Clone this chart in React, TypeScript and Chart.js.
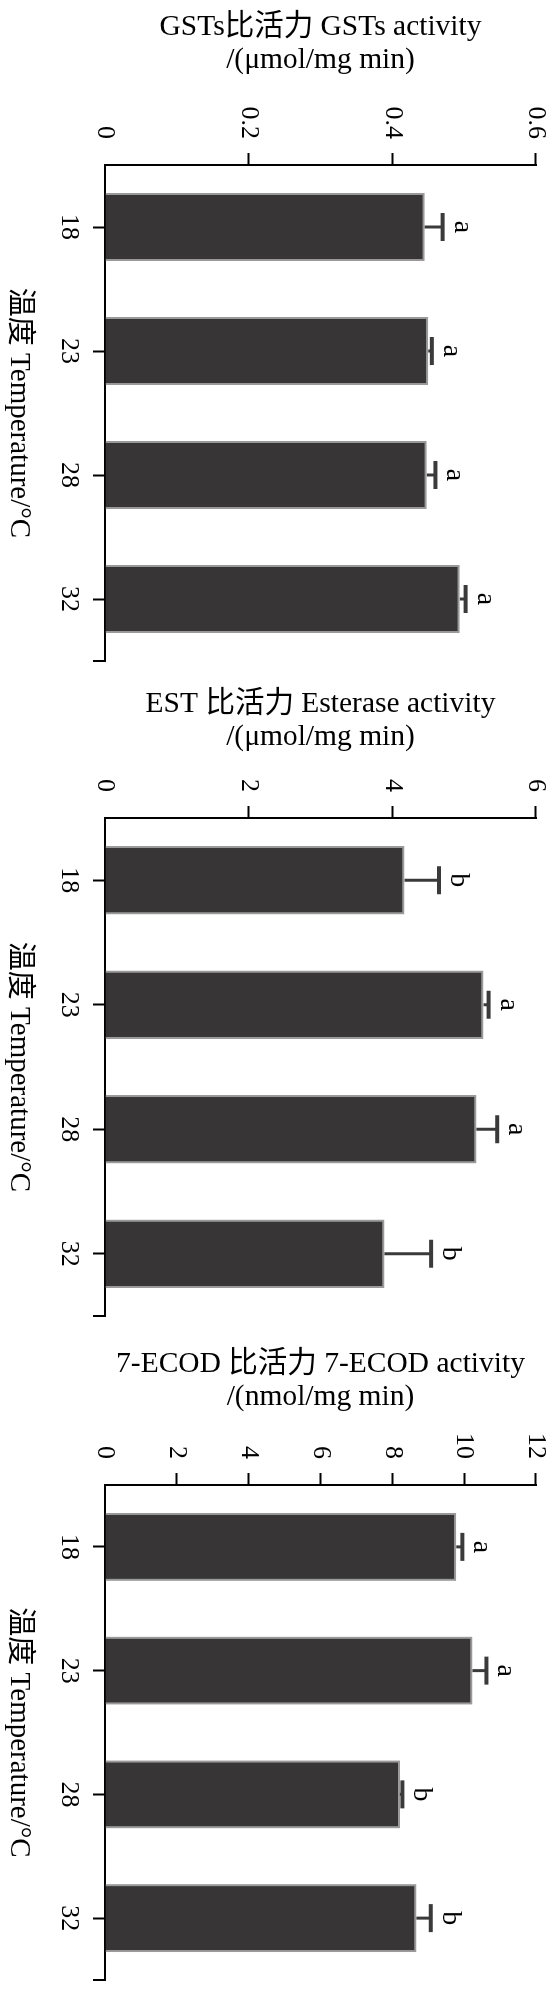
import React, { useEffect, useRef } from 'react';
import { Chart, registerables } from 'chart.js';

Chart.register(...registerables);

// ---------- data ----------
const categories = ['18', '23', '28', '32'];

const gstValues = [0.445, 0.45, 0.448, 0.494];
const gstErrors = [0.025, 0.005, 0.012, 0.008];
const gstLetters = ['a', 'a', 'a', 'a'];
const gstTitle = ['GSTs比活力 GSTs activity', '/(μmol/mg min)'];
const gstMax = 0.6;
const gstStep = 0.2;

const estValues = [4.17, 5.27, 5.17, 3.89];
const estErrors = [0.48, 0.07, 0.29, 0.65];
const estLetters = ['b', 'a', 'a', 'b'];
const estTitle = ['EST 比活力 Esterase activity', '/(μmol/mg min)'];
const estMax = 6;
const estStep = 2;

const ecodValues = [9.78, 10.23, 8.21, 8.67];
const ecodErrors = [0.17, 0.39, 0.07, 0.4];
const ecodLetters = ['a', 'a', 'b', 'b'];
const ecodTitle = ['7-ECOD 比活力 7-ECOD activity', '/(nmol/mg min)'];
const ecodMax = 12;
const ecodStep = 2;

const xTitle = '温度 Temperature/°C';

// ---------- layout (each panel is a vertical bar chart rotated 90° clockwise) ----------
const PAGE_W = 553;
const AREA_TOP = 17;
const AREA_BOTTOM = 448;
const FAMILY = "'Liberation Serif', 'Noto Sans CJK SC', serif";

type Spec = { top: number; len: number; left: number; right: number; titlePad: number };

const specs: Spec[] = [
  { top: 0, len: 680, left: 165, right: 661, titlePad: 11 },
  { top: 680, len: 660, left: 138, right: 636, titlePad: 8 },
  { top: 1340, len: 656, left: 145, right: 640, titlePad: 8 },
];

function makeMarksPlugin(values: number[], errors: number[], letters: string[]) {
  return {
    id: 'errMarks',
    afterDatasetsDraw(chart: any) {
      const { ctx, scales } = chart;
      const x = scales.x;
      const y = scales.y;
      ctx.save();
      values.forEach((v, i) => {
        const xc = x.getPixelForValue(i);
        const y0 = y.getPixelForValue(v);
        const y1 = y.getPixelForValue(v + errors[i]);
        ctx.strokeStyle = '#3a3a3a';
        ctx.lineWidth = 3;
        ctx.beginPath();
        ctx.moveTo(xc, y0);
        ctx.lineTo(xc, y1);
        ctx.stroke();
        ctx.lineWidth = 4;
        ctx.beginPath();
        ctx.moveTo(xc - 14, y1);
        ctx.lineTo(xc + 14, y1);
        ctx.stroke();
        ctx.fillStyle = '#000';
        ctx.font = `28px ${FAMILY}`;
        ctx.textAlign = 'center';
        ctx.textBaseline = 'alphabetic';
        ctx.fillText(letters[i], xc, y1 - 12);
      });
      ctx.restore();
    },
    afterDraw(chart: any) {
      const { ctx, chartArea } = chart;
      ctx.save();
      ctx.strokeStyle = '#000';
      ctx.lineWidth = 2;
      ctx.beginPath();
      ctx.moveTo(chartArea.right, chartArea.bottom);
      ctx.lineTo(chartArea.right, chartArea.bottom + 12);
      ctx.stroke();
      ctx.restore();
    },
  };
}

type PanelProps = {
  spec: Spec;
  values: number[];
  errors: number[];
  letters: string[];
  title: string[];
  max: number;
  step: number;
};

function Panel({ spec, values, errors, letters, title, max, step }: PanelProps) {
  const ref = useRef<HTMLCanvasElement>(null);
  useEffect(() => {
    const chart = new Chart(ref.current as HTMLCanvasElement, {
      type: 'bar',
      data: {
        labels: categories,
        datasets: [
          {
            data: values,
            backgroundColor: '#373536',
            borderColor: '#9a9a9a',
            borderWidth: 2,
            borderSkipped: 'start',
            categoryPercentage: 1,
            barPercentage: 0.55,
          },
        ],
      },
      options: {
        animation: false,
        responsive: false,
        devicePixelRatio: 1,
        layout: { padding: { top: AREA_TOP, right: spec.len - spec.right, left: 0, bottom: 0 } },
        plugins: { legend: { display: false }, tooltip: { enabled: false } },
        scales: {
          x: {
            type: 'category',
            offset: true,
            z: 1,
            grid: {
              display: true,
              drawOnChartArea: false,
              drawTicks: true,
              tickLength: 12,
              tickWidth: 2,
              tickColor: '#000',
              offset: false,
            },
            border: { display: true, color: '#000', width: 2 },
            ticks: {
              font: { family: FAMILY, size: 26 },
              color: '#000',
              padding: 9,
              maxRotation: 0,
              minRotation: 0,
              autoSkip: false,
            },
            title: {
              display: true,
              text: xTitle,
              color: '#000',
              font: { family: FAMILY, size: 29, lineHeight: 1.15 },
              padding: { top: 0, bottom: 2 },
            },
            afterFit: (s: any) => {
              s.height = PAGE_W - AREA_BOTTOM;
              s.paddingLeft = 0;
              s.paddingRight = 0;
            },
          },
          y: {
            type: 'linear',
            min: 0,
            max: max,
            ticks: {
              stepSize: step,
              font: { family: FAMILY, size: 26 },
              color: '#000',
              padding: 14,
            },
            grid: {
              display: true,
              drawOnChartArea: false,
              drawTicks: true,
              tickLength: 12,
              tickWidth: 2,
              tickColor: (c: any) => (c.tick && c.tick.value === 0 ? 'rgba(0,0,0,0)' : '#000'),
            },
            border: { display: true, color: '#000', width: 2 },
            title: {
              display: true,
              text: title,
              color: '#000',
              font: { family: FAMILY, size: 29.5, lineHeight: 1.12 },
              padding: { top: spec.titlePad, bottom: 0 },
            },
            afterFit: (s: any) => {
              s.width = spec.left;
              s.paddingTop = 0;
              s.paddingBottom = 0;
            },
          },
        },
      } as any,
      plugins: [makeMarksPlugin(values, errors, letters)],
    });
    return () => chart.destroy();
  }, []);

  return (
    <div
      style={{
        position: 'absolute',
        left: 0,
        top: spec.top,
        width: spec.len,
        height: PAGE_W,
        transformOrigin: '0 0',
        transform: `translateX(${PAGE_W}px) rotate(90deg)`,
      }}
    >
      <canvas ref={ref} width={spec.len} height={PAGE_W} style={{ display: 'block' }} />
    </div>
  );
}

export default function App() {
  return (
    <div
      style={{
        position: 'absolute',
        left: 0,
        top: 0,
        width: PAGE_W,
        height: 1996,
        overflow: 'hidden',
        background: '#fff',
      }}
    >
      <Panel spec={specs[0]} values={gstValues} errors={gstErrors} letters={gstLetters} title={gstTitle} max={gstMax} step={gstStep} />
      <Panel spec={specs[1]} values={estValues} errors={estErrors} letters={estLetters} title={estTitle} max={estMax} step={estStep} />
      <Panel spec={specs[2]} values={ecodValues} errors={ecodErrors} letters={ecodLetters} title={ecodTitle} max={ecodMax} step={ecodStep} />
    </div>
  );
}
